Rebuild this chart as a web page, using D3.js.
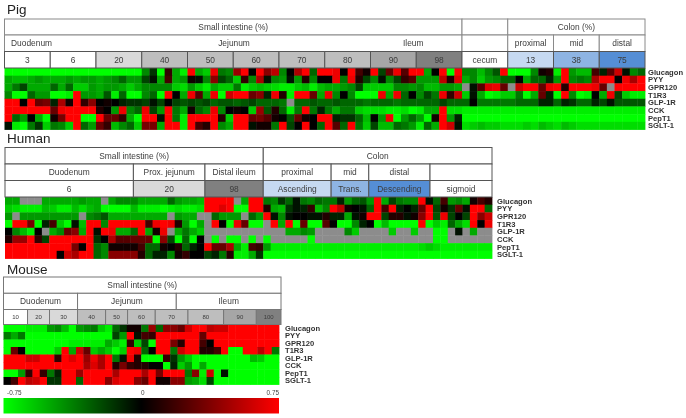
<!DOCTYPE html>
<html>
<head>
<meta charset="utf-8">
<script src="https://cdnjs.cloudflare.com/ajax/libs/d3/7.8.5/d3.min.js"></script>
<style>
  html, body { margin: 0; background: #fff; }
  svg { display: block; font-family: "Liberation Sans", Arial, sans-serif; filter: blur(0.35px); }
</style>
</head>
<body>
<div id="chart"></div>
<script>
'use strict';

const _ = null; // grey cell, no measurement

const rowLabels = ['Glucagon', 'PYY', 'GPR120', 'T1R3', 'GLP-1R', 'CCK', 'PepT1', 'SGLT-1'];

// Pig, 84 samples
const pigGlucagon = [-.75,-.75,-.75,-.75,-.75,-.75, -.75,-.75,-.75,-.75,-.75,-.75, -.75,-.75,-.75,-.75,-.75,-.75, -.4,-.15,-.75,.15,-.5,-.7, .75,-.5,-.6,.7,-.35,-.4,
  .45,.75,0,.75,.4,.55, -.4,0,.5,.75,-.3,.75, .75,.7,0,.75,.2,.05, .75,-.2,.3,.7,.25,.75, .75,-.5,0,.75,-.75,.75,
  -.4,-.4,-.55,-.4,-.25,.75, -.75,-.75,-.75,-.4,.05,.1, -.7,.75,-.45,-.55,-.55,.2, -.1,.25,.6,-.05,-.4,-.3];
const pigPYY = [-.5,-.55,-.55,-.5,-.45,-.5, -.5,-.5,-.45,-.5,-.45,-.45, -.5,-.45,-.4,-.3,-.45,-.45, -.2,-.05,-.5,.2,-.5,-.45, .05,-.05,-.4,.4,-.2,-.3,
  -.6,.15,-.4,.5,-.05,-.4, -.45,-.05,-.45,.1,-.4,0, 0,.7,-.35,.7,.1,-.2, -.4,-.05,-.4,-.2,.15,.25, -.45,-.45,-.45,.55,.1,.65,
  -.5,-.4,-.6,-.45,-.4,-.3, -.3,0,-.5,-.3,-.3,-.1, -.45,.75,-.4,-.35,-.4,.5, .75,.75,0,.7,.5,.75];
const pigGPR120 = [-.5,-.35,-.2,-.5,-.5,-.5, -.3,-.5,-.3,-.6,-.6,-.45, -.5,-.45,-.45,-.5,-.6,-.5, -.4,-.4,-.4,-.4,-.6,-.65, -.45,-.6,-.7,-.5,-.6,-.6,
  -.35,-.7,-.6,-.55,-.6,-.65, -.7,-.7,-.6,-.55,-.7,-.55, -.5,-.5,-.45,-.4,-.2,-.6, -.6,-.6,-.6,-.4,-.4,-.45, -.4,-.55,-.55,-.45,-.45,-.5,
  _,-.05,.25,.65,.7,.3, _,.6,.75,.75,.3,.7, .75,.1,.75,.75,.75,.7, .3,_,.75,.75,.75,.75];
const pigT1R3 = [-.4,-.75,-.75,-.3,-.45,-.45, -.75,-.75,-.7,.75,-.45,-.45, -.5,-.25,-.7,-.3,-.75,-.75, -.4,-.3,-.75,.75,0,-.5, .7,.25,-.5,.7,-.75,.6,
  .75,.75,.3,.4,-.1,.7, .1,-.7,.75,.75,.3,-.5, .7,-.4,0,-.4,-.75,-.75, -.75,.7,-.5,.7,-.3,0, -.4,-.2,-.35,.7,.15,.6,
  -.6,-.05,-.5,-.75,-.7,-.6, -.6,-.35,-.75,-.5,.3,-.1, -.75,.75,-.4,-.75,-.7,0, -.5,.7,-.2,-.6,-.7,-.7];
const pigGLP1R = [.75,.75,0,.75,.3,.35, -.1,.5,.05,.75,.15,.4, 0,.05,0,-.1,-.15,-.15, -.2,-.05,-.2,0,-.2,-.25, -.2,-.25,-.2,-.3,-.25,-.25,
  -.3,-.25,-.2,-.3,-.3,-.3, -.35,_,-.3,-.3,-.25,-.3, -.3,-.25,-.3,-.3,-.3,-.35, -.3,-.3,-.3,-.35,-.3,-.3, -.3,-.3,-.3,-.2,-.3,-.3,
  -.3,0,-.35,-.35,-.35,-.35, -.35,-.3,-.3,-.3,-.1,-.1, -.3,-.1,-.15,-.3,-.3,-.1, -.2,-.05,-.25,-.25,-.25,-.25];
const pigCCK = [.75,.75,.75,.75,.75,.75, .3,.7,.75,.75,.75,.75, .1,0,-.45,.7,-.4,-.3, .7,-.2,-.45,.75,-.35,-.5, .05,-.3,-.4,.7,-.4,0,
  .05,0,-.6,.45,-.25,.1, -.3,-.7,-.35,.75,-.35,-.1, -.35,-.5,-.35,-.35,-.6,-.65, -.65,-.65,-.7,-.7,-.65,-.75, -.7,-.5,-.5,.75,-.65,-.65,
  -.7,-.7,-.7,-.7,-.7,-.7, -.7,-.7,-.7,-.7,-.7,-.7, -.7,-.7,-.7,-.7,-.7,-.7, -.7,-.7,-.7,-.7,-.7,-.7];
const pigPepT1 = [.75,-.3,-.45,0,-.5,-.75, .05,.35,.75,.75,-.75,-.75, .75,.3,.3,.15,-.5,-.75, .75,.75,-.05,.75,-.35,-.7, .75,.75,.75,.75,.1,-.6,
  .75,.75,.3,.35,.25,.05, 0,-.25,.3,.05,0,.75, .75,-.1,-.15,-.15,-.3,-.55, 0,-.45,.7,-.75,-.45,-.3, -.45,-.75,.05,.75,-.45,-.1,
  -.75,-.75,-.75,-.75,-.75,-.75, -.75,-.75,-.75,-.75,-.75,-.75, -.75,-.75,-.75,-.75,-.75,-.75, -.75,-.75,-.75,-.75,-.75,-.75];
const pigSGLT1 = [-.05,-.7,-.75,-.35,-.15,-.6, -.35,-.4,-.6,.75,-.3,-.45, .3,.15,-.55,-.4,-.3,-.6, .35,.35,-.5,.75,.75,-.7, .75,.2,.1,.75,-.4,-.5,
  .75,.75,-.05,.05,.05,-.35, .75,-.2,0,.75,0,-.3, .75,.25,-.3,.75,-.35,-.6, -.2,-.55,-.55,-.3,-.35,-.45, -.7,-.3,-.5,.75,.6,-.05,
  -.65,-.6,-.55,-.6,-.6,-.65, -.65,-.65,-.6,-.65,-.55,-.6, -.65,-.55,-.6,-.65,-.65,-.65, -.65,-.65,-.65,-.65,-.65,-.65];

// Human, 66 samples
const humanGlucagon = [-.5,-.5,_,_,_,-.5, -.5,-.5,-.5,-.5,-.45,-.5, -.5,_,-.5,-.4,-.4,-.4, -.5,-.5,-.5,-.5,-.3,-.45, -.5,-.5,-.55,.75,.75,.75, .75,_,-.5,.75,.75,
  -.35,-.4,-.15,-.3,-.05,-.35,-.4,-.3,-.35,-.35,-.1,-.45,-.3,-.25,-.45,.75,-.5,-.2,-.35,-.4,-.4,.75,-.05,-.3,.2,-.45,-.4,-.5,.05,.2,.1];
const humanPYY = [-.6,-.65,-.7,-.7,-.7,-.55, -.6,-.7,-.7,-.55,-.65,-.55, -.5,-.75,-.75,-.75,-.75,-.55, -.7,-.7,-.7,-.75,-.7,-.65, -.7,-.7,-.65,.75,.75,.65, .75,-.75,-.75,.75,.75,
  .1,-.5,-.55,-.15,-.05,-.1,.15,-.55,-.4,.75,.55,.05,0,-.05,-.3,.75,.2,.75,-.1,0,-.1,.3,.75,-.2,.05,-.15,.3,-.05,.75,.75,-.3];
const humanGPR120 = [-.45,_,-.45,-.45,-.45,-.45, -.45,-.45,-.45,-.45,_,-.4, -.35,-.25,-.5,-.5,-.5,-.5, -.5,-.5,-.5,-.5,_,-.45, -.5,-.5,_,_,-.3,-.45, -.45,-.45,_,-.3,-.45,
  .75,-.05,-.4,-.05,0,0,-.05,-.05,.1,-.1,-.1,-.5,-.05,.05,.75,.75,-.2,.1,.1,-.05,.05,.4,.75,-.25,.7,-.2,0,-.2,.75,.4,.6];
const humanT1R3 = [-.75,.75,.75,.35,-.75,-.1, .2,-.6,-.75,-.05,-.55,.75, .75,-.4,.75,.75,.75,.75, .75,.2,.7,.75,.7,.1, -.45,-.75,-.5,_,.75,0, -.75,.7,.3,-.75,-.75,
  _,.75,-.5,.75,-.75,.3,-.75,-.75,.25,0,-.75,-.75,-.4,-.1,0,-.75,-.55,-.75,-.75,-.75,-.75,.75,-.75,-.6,-.7,-.3,-.5,-.65,.75,0,.7];
const humanGLP1R = [0,-.4,-.55,-.7,0,_, -.5,-.4,.3,.4,-.5,.75, -.05,.75,.7,-.5,-.5,-.3, .75,-.5,.05,.7,_,-.5, -.35,-.5,-.6,_,_,_, _,_,_,_,_,
  _,_,_,-.5,-.5,-.4,-.45,_,_,_,_,-.4,-.6,_,_,_,_,-.6,_,_,-.6,_,_,-.75,-.75,_,-.05,_,-.5,_,_];
const humanCCK = [.1,.45,.45,.75,.15,-.2, .75,.75,.75,.75,.75,.75, -.15,0,.5,.25,.25,.3, .3,.3,-.75,.4,-.2,-.75, -.3,-.75,0,_,-.75,_, -.75,-.75,_,-.75,_,
  -.75,_,_,_,_,_,-.75,_,_,_,_,_,_,_,_,_,_,_,_,_,_,_,_,-.75,-.75,_,_,_,_,_,_];
const humanPepT1 = [.75,.75,.75,.75,.75,.75, .75,.75,.75,.35,0,.75, -.3,-.4,.05,.05,.05,.05, .2,-.3,-.3,.05,0,.1, -.3,-.1,0,.75,.3,.3, .5,-.5,-.7,.2,.15,
  -.45,-.7,-.7,-.7,-.7,-.7,-.7,-.7,-.7,-.7,-.7,-.7,-.7,-.7,-.7,-.7,-.7,-.7,-.7,-.7,-.7,-.65,-.6,-.65,-.7,-.7,-.7,-.7,-.7,-.7,-.7];
const humanSGLT1 = [.75,.75,.75,.75,.75,.75, .75,0,.6,.5,.75,.75, -.3,-.4,.4,.4,.4,.4, .1,-.3,-.1,-.1,-.4,.05, .15,0,0,-.2,-.1,-.35, .1,-.7,-.7,-.5,-.15,
  -.75,-.75,-.75,-.75,-.75,-.75,-.75,-.75,-.75,-.75,-.75,-.75,-.75,-.75,-.75,-.75,-.75,-.75,-.75,-.75,-.75,-.75,-.75,-.75,-.75,-.75,-.75,-.75,-.75,-.75,-.75];

// Mouse, 38 samples
const mouseGlucagon = [-.75,-.75,-.75,-.7,-.7,-.7, -.45,-.4,-.55,-.75,-.45,-.4, -.35,-.6,-.7,-.3,-.15,.05, .05,-.35,.45,-.3,.4,.4, .3,.6,.75,.75,.55,.6, .6,.75,.75,.75,.75,.75,.75,.75];
const mousePYY = [-.35,-.5,-.35,-.75,-.75,-.75, -.75,-.75,-.75,-.75,-.75,-.75, -.75,-.75,-.75,-.2,-.45,.75, -.05,.2,.15,.75,.75,.75, .75,.75,.75,.3,.75,.75, .75,.75,.75,.75,.75,.75,.75,.75];
const mouseGPR120 = [-.75,-.75,-.75,-.75,-.75,-.75, -.75,-.75,-.75,-.7,-.7,-.7, -.7,-.7,-.5,-.6,-.7,.15, -.6,-.2,-.75,.75,.75,.35, .1,.75,.75,.2,0,.75, .75,.75,.75,.75,.75,.75,.75,.75];
const mouseT1R3 = [-.75,.3,0,-.75,-.75,-.75, -.75,-.6,.75,-.5,.6,.3, -.6,-.5,-.6,-.75,-.6,.75, .7,-.3,0,.75,.75,-.35, .6,.75,.75,.1,.1,.2, .75,-.75,-.75,.75,.75,.55,.75,-.35];
const mouseGLP1R = [.75,.75,.75,.6,.6,.75, .75,.15,.75,.65,.75,.45, .7,.5,.75,-.35,-.05,.7, .1,-.75,-.75,-.75,.15,-.15, -.45,-.6,-.75,-.75,-.75,-.75, -.75,-.75,-.75,-.75,-.55,-.6,-.75,-.75];
const mouseCCK = [.75,.75,.75,.75,.75,.75, .75,.75,.75,.75,.75,.5, .65,.5,.75,.1,.35,.15, .1,.1,0,0,-.75,-.1, -.6,-.45,-.75,-.5,-.75,-.75, -.75,-.75,-.75,-.75,-.75,-.75,-.75,-.75];
const mousePepT1 = [-.75,-.75,-.45,.15,.75,.15, -.35,-.1,.75,.75,.45,.75, .75,.75,.75,.5,.75,.75, .75,.5,.75,.35,.75,.75, .75,-.35,.4,-.7,.6,-.75, -.05,-.75,-.75,-.75,-.75,-.75,-.75,-.75];
const mouseSGLT1 = [0,.2,.75,.55,.6,.75, -.15,-.15,.75,.75,-.3,.75, .75,.75,.4,.65,.75,.75, .4,.3,.75,.05,.05,.4, .4,-.45,-.5,-.65,-.2,-.75, -.75,-.75,-.75,-.75,-.75,-.75,-.75,-.75];

// Header labels and how many samples each one covers
const pigRegions = ['Small intestine (%)', '', 'Colon (%)'];
const pigRegionSpans = [60, 6, 18];
const pigColonParts = ['', '', 'proximal', 'mid', 'distal'];
const pigColonPartSpans = [60, 6, 6, 6, 6];
const pigSegments = ['Duodenum', 'Jejunum', 'Ileum'];
const pigSegmentCentres = [3.55, 30.1, 53.6];
const pigSamples = ['3', '6', '20', '40', '50', '60', '70', '80', '90', '98', 'cecum', '13', '38', '75'];
const pigSampleSpans = [6, 6, 6, 6, 6, 6, 6, 6, 6, 6, 6, 6, 6, 6];

const humanRegions = ['Small intestine (%)', 'Colon'];
const humanRegionSpans = [35, 31];
const humanParts = ['Duodenum', 'Prox. jejunum', 'Distal ileum', 'proximal', 'mid', 'distal', ''];
const humanSamples = ['6', '20', '98', 'Ascending', 'Trans.', 'Descending', 'sigmoid'];
const humanPartSpans = [17.4, 9.7, 7.9, 9.2, 5.1, 8.3, 8.4];

const mouseRegions = ['Small intestine (%)'];
const mouseRegionSpans = [38];
const mouseParts = ['Duodenum', 'Jejunum', 'Ileum'];
const mousePartSpans = [10.14, 13.52, 14.34];
const mouseSamples = ['10', '20', '30', '40', '50', '60', '70', '80', '90', '100'];
const mouseSampleSpans = [3.29, 3.01, 3.84, 3.84, 3.01, 3.79, 4.48, 4.88, 4.48, 3.38];

const legendTicks = [-0.75, 0, 0.75];

const width = 686;
const height = 418;
const missingColor = '#8c8c8c';
const toneLight = '#d9d9d9';
const toneMid = '#bebebe';
const toneDark = '#a6a6a6';
const toneDarkest = '#808080';
const blueLight = '#c6d9f1';
const blueMid = '#8eb4e3';
const blueDark = '#558ed5';

const colorScale = d3.scaleLinear()
  .domain([-0.75, 0, 0.75])
  .range(['#00ff00', '#000000', '#ff0000'])
  .clamp(true);

const svg = d3.select('#chart').append('svg')
  .attr('width', width)
  .attr('height', height);

class Heatmap {
  constructor(options) {
    this.title = options.title;
    this.titleY = options.titleY;
    this.rows = options.rows;
    this.left = options.left;
    this.right = options.right;
    this.tableRight = options.tableRight || options.right;
    this.headerYs = options.headerYs;
    this.bottom = options.bottom;
    this.header = options.header;
    this.floating = options.floating || [];
    this.labelX = options.labelX;
    this.lineColor = options.lineColor;
    this.x = d3.scaleBand()
      .domain(d3.range(this.rows[0].length))
      .range([this.left, this.right]);
    this.y = d3.scaleBand()
      .domain(rowLabels)
      .range([this.headerYs[this.headerYs.length - 1], this.bottom]);
    // header spans are in sample units, so they can land between cells
    this.spanScale = d3.scaleLinear()
      .domain([0, this.rows[0].length])
      .range([this.left, this.tableRight]);
  }

  draw() {
    this.plot = svg.append('g');
    this.drawCells();
    this.drawHeader();
    this.drawTitle();
    this.drawRowLabels();
  }

  drawCells() {
    this.plot.append('g')
      .selectAll('g')
      .data(this.rows)
      .enter().append('g')
        .attr('transform', (d, i) => `translate(0,${this.y(rowLabels[i])})`)
        .selectAll('rect')
          .data((d) => d)
          .enter().append('rect')
            .attr('x', (d, i) => this.x(i))
            .attr('y', 0)
            .attr('width', this.x.bandwidth() + 0.4)
            .attr('height', this.y.bandwidth() + 0.4)
            .attr('fill', (d) => d === null ? missingColor : colorScale(d));
  }

  drawHeader() {
    this.header.forEach((row, level) => {
      let start = 0;
      const cells = row.labels.map((label, i) => {
        const cell = {label: label, start: start, end: start + row.spans[i], fill: row.fills ? row.fills[i] : '#fff'};
        start = cell.end;
        return cell;
      });
      const y0 = this.headerYs[level];
      const y1 = this.headerYs[level + 1];
      const group = this.plot.append('g');
      group.selectAll('rect')
        .data(cells)
        .enter().append('rect')
          .attr('x', (d) => this.spanScale(d.start))
          .attr('y', y0)
          .attr('width', (d) => this.spanScale(d.end) - this.spanScale(d.start))
          .attr('height', y1 - y0)
          .attr('fill', (d) => d.fill)
          .attr('stroke', this.lineColor[level])
          .attr('stroke-width', 1);
      group.selectAll('text')
        .data(cells)
        .enter().append('text')
          .attr('x', (d) => this.spanScale((d.start + d.end) / 2))
          .attr('y', (y0 + y1) / 2)
          .attr('dy', '.36em')
          .attr('text-anchor', 'middle')
          .attr('font-size', row.fontSize || 8.4)
          .attr('fill', '#3c3c3c')
          .text((d) => d.label);
    });

    this.floating.forEach((item) => {
      const y0 = this.headerYs[item.level];
      const y1 = this.headerYs[item.level + 1];
      this.plot.append('g')
        .selectAll('text')
        .data(item.labels)
        .enter().append('text')
          .attr('x', (d, i) => this.spanScale(item.centres[i]))
          .attr('y', (y0 + y1) / 2)
          .attr('dy', '.36em')
          .attr('text-anchor', 'middle')
          .attr('font-size', 8.4)
          .attr('fill', '#3c3c3c')
          .text((d) => d);
    });
  }

  drawTitle() {
    this.plot.append('text')
      .attr('x', 7)
      .attr('y', this.titleY)
      .attr('font-size', 13.5)
      .attr('fill', '#222')
      .text(this.title);
  }

  drawRowLabels() {
    this.plot.append('g')
      .selectAll('text')
      .data(rowLabels)
      .enter().append('text')
        .attr('x', this.labelX)
        .attr('y', (d) => this.y(d) + this.y.bandwidth() / 2)
        .attr('dy', '.36em')
        .attr('font-size', 7.6)
        .attr('font-weight', 'bold')
        .attr('fill', '#333')
        .text((d) => d);
  }
}

new Heatmap({
  title: 'Pig',
  titleY: 14,
  rows: [pigGlucagon, pigPYY, pigGPR120, pigT1R3, pigGLP1R, pigCCK, pigPepT1, pigSGLT1],
  left: 4.5,
  right: 645,
  headerYs: [19, 35, 51.5, 68],
  bottom: 129.5,
  labelX: 648,
  lineColor: ['#8a8a8a', '#8a8a8a', '#555'],
  header: [
    {labels: pigRegions, spans: pigRegionSpans},
    {labels: pigColonParts, spans: pigColonPartSpans},
    {labels: pigSamples, spans: pigSampleSpans,
      fills: ['#fff', '#fff', toneLight, toneMid, toneMid, toneMid, toneMid, toneMid, toneDark, toneDarkest, '#fff', blueLight, blueMid, blueDark]}
  ],
  floating: [{level: 1, labels: pigSegments, centres: pigSegmentCentres}]
}).draw();

new Heatmap({
  title: 'Human',
  titleY: 143,
  rows: [humanGlucagon, humanPYY, humanGPR120, humanT1R3, humanGLP1R, humanCCK, humanPepT1, humanSGLT1],
  left: 5,
  right: 492,
  headerYs: [147.5, 164, 180.5, 197],
  bottom: 258.5,
  labelX: 497,
  lineColor: ['#555', '#555', '#555'],
  header: [
    {labels: humanRegions, spans: humanRegionSpans},
    {labels: humanParts, spans: humanPartSpans},
    {labels: humanSamples, spans: humanPartSpans,
      fills: ['#fff', toneLight, toneDarkest, blueLight, blueMid, blueDark, '#fff']}
  ]
}).draw();

new Heatmap({
  title: 'Mouse',
  titleY: 274,
  rows: [mouseGlucagon, mousePYY, mouseGPR120, mouseT1R3, mouseGLP1R, mouseCCK, mousePepT1, mouseSGLT1],
  left: 3.5,
  right: 279,
  tableRight: 281,
  headerYs: [277, 293.3, 309.5, 324.5],
  bottom: 384.5,
  labelX: 285,
  lineColor: ['#777', '#777', '#777'],
  header: [
    {labels: mouseRegions, spans: mouseRegionSpans},
    {labels: mouseParts, spans: mousePartSpans},
    {labels: mouseSamples, spans: mouseSampleSpans, fontSize: 6,
      fills: ['#fff', toneLight, toneLight, toneMid, toneMid, toneMid, toneMid, toneMid, toneDark, toneDarkest]}
  ]
}).draw();

// colour key under the mouse panel
const legendScale = d3.scaleLinear()
  .domain([-0.75, 0.75])
  .range([3.5, 279]);

const gradient = svg.append('defs').append('linearGradient')
  .attr('id', 'key');
gradient.selectAll('stop')
  .data(legendTicks)
  .enter().append('stop')
    .attr('offset', (d, i) => i / (legendTicks.length - 1))
    .attr('stop-color', (d) => colorScale(d));

svg.append('rect')
  .attr('x', legendScale(-0.75))
  .attr('y', 398)
  .attr('width', legendScale(0.75) - legendScale(-0.75))
  .attr('height', 15.5)
  .attr('fill', 'url(#key)');

svg.append('g')
  .selectAll('text')
  .data(legendTicks)
  .enter().append('text')
    .attr('x', (d) => legendScale(d) + (d < 0 ? 3.5 : d === 0 ? 1.5 : 0))
    .attr('y', 395)
    .attr('text-anchor', (d) => d < 0 ? 'start' : d > 0 ? 'end' : 'middle')
    .attr('font-size', 6.4)
    .attr('fill', '#444')
    .text((d) => d);
</script>
</body>
</html>
